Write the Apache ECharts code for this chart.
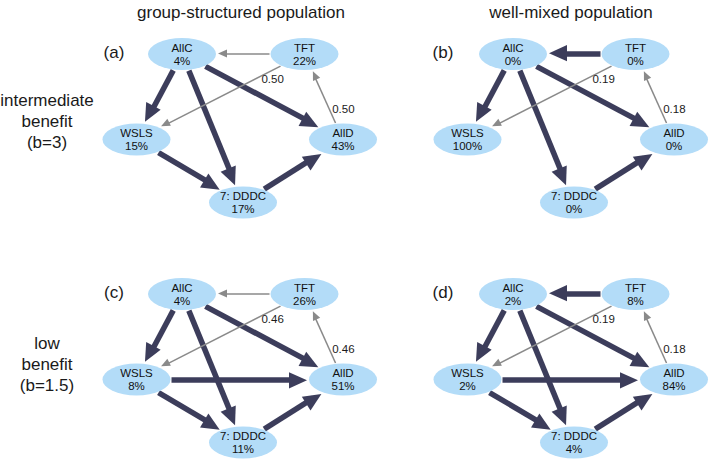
<!DOCTYPE html>
<html>
<head>
<meta charset="utf-8">
<script src="https://cdn.jsdelivr.net/npm/echarts@6/dist/echarts.min.js"></script>
<style>
  html, body { margin: 0; padding: 0; background: #ffffff; }
  #chart { width: 709px; height: 459px; }
</style>
</head>
<body>
<div id="chart"></div>
<script>
// ---------------- data ----------------
const strategies = ['AllC', 'TFT', 'WSLS', 'AllD', '7: DDDC'];
const columnTitles = ['group-structured population', 'well-mixed population'];
const rowTitles = ['intermediate\nbenefit\n(b=3)', 'low\nbenefit\n(b=1.5)'];
const panelLabels = ['(a)', '(b)', '(c)', '(d)'];

// stationary abundance (%) in the order of `strategies`
const abundanceA = [4, 22, 15, 43, 17];
const abundanceB = [0, 0, 100, 0, 0];
const abundanceC = [4, 26, 8, 51, 11];
const abundanceD = [2, 8, 2, 84, 4];

// transitions: [from, to, kind or fixation label]
// 'strong' = thick arrow, 'neutral' = thin arrow without label, otherwise thin labelled arrow
const transitionsA = [
  ['TFT', 'AllC', 'neutral'], ['TFT', 'WSLS', '0.50'], ['AllD', 'TFT', '0.50'],
  ['AllC', 'WSLS', 'strong'], ['AllC', '7: DDDC', 'strong'], ['AllC', 'AllD', 'strong'],
  ['WSLS', '7: DDDC', 'strong'], ['7: DDDC', 'AllD', 'strong']
];
const transitionsB = [
  ['TFT', 'AllC', 'strong'], ['TFT', 'WSLS', '0.19'], ['AllD', 'TFT', '0.18'],
  ['AllC', 'WSLS', 'strong'], ['AllC', '7: DDDC', 'strong'], ['AllC', 'AllD', 'strong'],
  ['7: DDDC', 'AllD', 'strong']
];
const transitionsC = [
  ['TFT', 'AllC', 'neutral'], ['TFT', 'WSLS', '0.46'], ['AllD', 'TFT', '0.46'],
  ['AllC', 'WSLS', 'strong'], ['AllC', '7: DDDC', 'strong'], ['AllC', 'AllD', 'strong'],
  ['WSLS', 'AllD', 'strong'], ['WSLS', '7: DDDC', 'strong'], ['7: DDDC', 'AllD', 'strong']
];
const transitionsD = [
  ['TFT', 'AllC', 'strong'], ['TFT', 'WSLS', '0.19'], ['AllD', 'TFT', '0.18'],
  ['AllC', 'WSLS', 'strong'], ['AllC', '7: DDDC', 'strong'], ['AllC', 'AllD', 'strong'],
  ['WSLS', 'AllD', 'strong'], ['WSLS', '7: DDDC', 'strong'], ['7: DDDC', 'AllD', 'strong']
];

// ---------------- layout (network diagram placement) ----------------
const W = 709, H = 459;
const FONT = '"Liberation Sans", Arial, Helvetica, sans-serif';
const TEXT = '#1a1a1a';
const nodeOffset = { 'AllC': [0, 0], 'TFT': [122.5, 0], 'WSLS': [-45.5, 85.5], 'AllD': [161, 85.5], '7: DDDC': [61, 148.5] };
const panelOrigin = [[182, 54], [513, 54], [182, 294], [513, 294]];
const RX = 34, RY = 16;              // ellipse half axes
const ELLIPSE = 'path://M0,50 A50,50 0 1,1 100,50 A50,50 0 1,1 0,50 Z';
const labelPlacement = { 'TFT>WSLS': { t: 0.19, pos: 'bottom' }, 'AllD>TFT': { t: 0.36, pos: 'right' } };
const styleStrong = { color: '#3c3d5b', width: 5.5, head: 18, base: 15 };
const styleWeak = { color: '#8a8a8a', width: 1.5, head: 9, base: 7 };

function arrowPath(len, base) {
  const h = Math.max(len, base) / 2;
  // pad bounding box to a square so the symbol is not distorted
  return 'path://M' + (-h) + ',0 L' + (-h) + ',0 M0,0 L' + (base / 2) + ',' + len + ' L' + (-base / 2) + ',' + len + ' Z';
}

const abundances = [abundanceA, abundanceB, abundanceC, abundanceD];
const transitions = [transitionsA, transitionsB, transitionsC, transitionsD];

function pos(p, name) {
  const o = panelOrigin[p], d = nodeOffset[name];
  return [o[0] + d[0], o[1] + d[1]];
}
function ellipseR(ux, uy) {
  return 1 / Math.sqrt((ux / RX) * (ux / RX) + (uy / RY) * (uy / RY));
}

const nodeData = [];
const strongLines = [];
const weakLines = [];
const edgeLabels = [];

abundances.forEach(function (ab, p) {
  strategies.forEach(function (s, i) {
    const c = pos(p, s);
    nodeData.push({ name: s, value: [c[0], c[1], ab[i]] });
  });
  transitions[p].forEach(function (tr) {
    const a = pos(p, tr[0]), b = pos(p, tr[1]);
    const dx = b[0] - a[0], dy = b[1] - a[1];
    const L = Math.sqrt(dx * dx + dy * dy);
    const ux = dx / L, uy = dy / L;
    const st = tr[2] === 'strong' ? styleStrong : styleWeak;
    const r = ellipseR(ux, uy);
    const s0 = r + 1;
    const e0 = r + 2 + st.head / 2;
    const line = { coords: [[a[0] + ux * s0, a[1] + uy * s0], [b[0] - ux * e0, b[1] - uy * e0]] };
    (tr[2] === 'strong' ? strongLines : weakLines).push(line);
    if (tr[2] !== 'strong' && tr[2] !== 'neutral') {
      const lp = labelPlacement[tr[0] + '>' + tr[1]];
      edgeLabels.push({
        value: [a[0] + dx * lp.t, a[1] + dy * lp.t, tr[2]],
        label: { position: lp.pos }
      });
    }
  });
});

function textTitle(text, x, y, size, lh) {
  return {
    text: text, left: x, top: y, padding: 0,
    textAlign: 'center', textVerticalAlign: 'middle',
    textStyle: { fontFamily: FONT, fontSize: size, fontWeight: 'normal', color: TEXT, lineHeight: lh }
  };
}

const titles = [
  textTitle(columnTitles[0], 241, 12, 17, 20),
  textTitle(columnTitles[1], 571, 12, 17, 20),
  textTitle(rowTitles[0], 47, 121, 17, 21),
  textTitle(rowTitles[1], 47, 364, 17, 21),
  textTitle(panelLabels[0], 114, 52, 17, 20),
  textTitle(panelLabels[1], 443, 52, 17, 20),
  textTitle(panelLabels[2], 114, 292, 17, 20),
  textTitle(panelLabels[3], 443, 292, 17, 20)
];

function linesSeries(data, st, z) {
  return {
    type: 'lines', coordinateSystem: 'cartesian2d', z: z, silent: true,
    symbol: ['none', arrowPath(st.head, st.base)],
    symbolSize: Math.max(st.head, st.base),
    lineStyle: { color: st.color, width: st.width, opacity: 1, curveness: 0 },
    data: data
  };
}

const chart = echarts.init(document.getElementById('chart'), null, { renderer: 'svg' });
chart.setOption({
  animation: false,
  backgroundColor: '#ffffff',
  title: titles,
  grid: { left: 0, right: 0, top: 0, bottom: 0 },
  xAxis: { type: 'value', min: 0, max: W, show: false },
  yAxis: { type: 'value', min: 0, max: H, inverse: true, show: false },
  series: [
    linesSeries(strongLines, styleStrong, 1),
    linesSeries(weakLines, styleWeak, 2),
    {
      type: 'scatter', z: 3, silent: true,
      symbol: ELLIPSE, symbolSize: [RX * 2, RY * 2],
      itemStyle: { color: '#b3dcf8', opacity: 1 },
      label: {
        show: true, position: 'inside', fontFamily: FONT, fontSize: 11.5, lineHeight: 13, color: '#111',
        formatter: function (p) { return p.name + '\n' + p.value[2] + '%'; }
      },
      data: nodeData
    },
    {
      type: 'scatter', z: 4, silent: true, symbol: 'circle', symbolSize: 0,
      itemStyle: { color: '#000000', opacity: 1 },
      label: {
        show: true, distance: 3, fontFamily: FONT, fontSize: 11.5, fontWeight: 'normal',
        color: '#1a1a1a', opacity: 1, textBorderWidth: 0, textShadowBlur: 0,
        formatter: function (p) { return p.value[2]; }
      },
      data: edgeLabels
    }
  ]
});
</script>
</body>
</html>
